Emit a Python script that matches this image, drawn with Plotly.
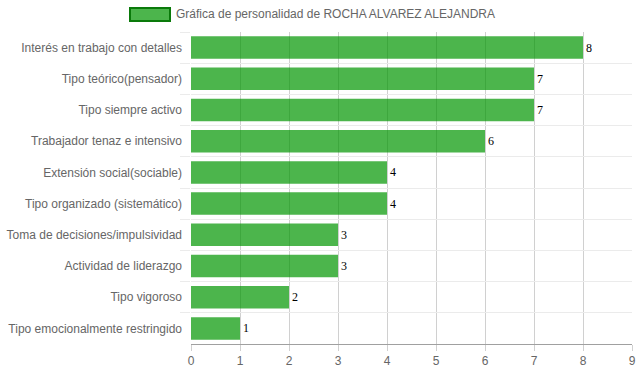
import plotly.graph_objects as go

categories = [
    "Interés en trabajo con detalles",
    "Tipo teórico(pensador)",
    "Tipo siempre activo",
    "Trabajador tenaz e intensivo",
    "Extensión social(sociable)",
    "Tipo organizado (sistemático)",
    "Toma de decisiones/impulsividad",
    "Actividad de liderazgo",
    "Tipo vigoroso",
    "Tipo emocionalmente restringido",
]
values = [8, 7, 7, 6, 4, 4, 3, 3, 2, 1]
series_name = "Gráfica de personalidad de ROCHA ALVAREZ ALEJANDRA"
x_ticks = list(range(0, 10))

bar_fill = "rgba(0,150,0,0.7)"

W, H = 639, 372
L, R, T, B = 191, 7, 32, 28
PW, PH = W - L - R, H - T - B

fig = go.Figure()
fig.add_trace(go.Bar(
    y=categories,
    x=values,
    orientation="h",
    name=series_name,
    marker=dict(color=bar_fill, line=dict(width=0)),
    text=[str(v) for v in values],
    textposition="outside",
    textfont=dict(family="Liberation Serif", size=12, color="#000"),
    cliponaxis=False,
    showlegend=False,
))

fig.update_layout(
    width=W, height=H,
    margin=dict(l=L, r=R, t=T, b=B, autoexpand=False),
    paper_bgcolor="white",
    plot_bgcolor="white",
    bargap=0.28,
    font=dict(family="Liberation Sans, Arial", size=12, color="#666"),
    xaxis=dict(
        range=[0, 9],
        tickvals=x_ticks,
        automargin=False,
        showgrid=True, gridcolor="#d0d0d0", gridwidth=1,
        ticks="outside", ticklen=6, tickcolor="#d0d0d0",
        showline=True, linecolor="#a0a0a0", linewidth=1,
        zeroline=False,
        layer="above traces",
        tickfont=dict(size=12, color="#666"),
    ),
    yaxis=dict(
        autorange="reversed",
        automargin=False,
        tickson="boundaries",
        showgrid=True, gridcolor="#ebebeb", gridwidth=1,
        ticks="outside", ticklen=10, tickcolor="#ebebeb",
        ticklabelstandoff=8,
        showline=False,
        zeroline=False,
        tickfont=dict(size=12, color="#666"),
    ),
)

# custom legend (wide box like the original)
fig.add_shape(type="rect", xref="paper", yref="paper",
              x0=(130 - L) / PW, x1=(170 - L) / PW,
              y0=1 + (T - 21) / PH, y1=1 + (T - 8) / PH,
              fillcolor=bar_fill, line=dict(color="#0a7a0a", width=2))
fig.add_annotation(xref="paper", yref="paper",
                   x=(174 - L) / PW, y=1 + (T - 14.5) / PH,
                   xanchor="left", yanchor="middle", showarrow=False,
                   text=series_name,
                   font=dict(size=12, color="#666"))

fig.write_html(
    "out.html",
    config={"displayModeBar": False},
    post_script="document.body.style.margin='0';document.body.style.overflow='hidden';",
)
